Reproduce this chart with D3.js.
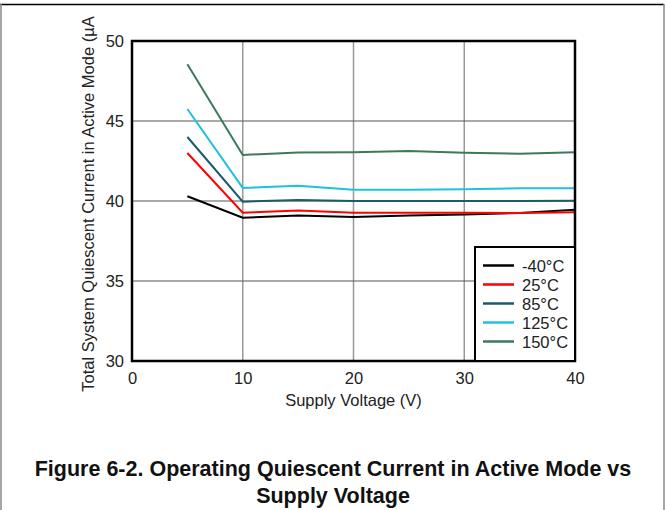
<!DOCTYPE html>
<html>
<head>
<meta charset="utf-8">
<script src="https://cdn.jsdelivr.net/npm/d3@7.9.0/dist/d3.min.js"></script>
<style>
  body { margin: 0; background: #fff; }
  svg { display: block; font-family: "Liberation Sans", Arial, sans-serif; }
</style>
</head>
<body>
<svg id="chart" width="666" height="510"></svg>
<script>
const voltages = [5, 10, 15, 20, 25, 30, 35, 40];
const seriesNames = ['-40°C', '25°C', '85°C', '125°C', '150°C'];
const seriesColors = ['#000000', '#ff0000', '#1d5a6c', '#1ec3da', '#3b7a5b'];
const m40 = [40.3, 38.95, 39.1, 39.0, 39.1, 39.15, 39.25, 39.45];
const p25 = [43.0, 39.27, 39.4, 39.27, 39.27, 39.27, 39.25, 39.3];
const p85 = [44.0, 39.96, 40.06, 40.0, 40.0, 40.0, 40.0, 40.02];
const p125 = [45.75, 40.82, 40.95, 40.7, 40.7, 40.73, 40.8, 40.8];
const p150 = [48.55, 42.88, 43.03, 43.04, 43.12, 43.02, 42.95, 43.05];
const seriesValues = [m40, p25, p85, p125, p150];
const xTicks = [0, 10, 20, 30, 40];
const yTicks = [30, 35, 40, 45, 50];

const svg = d3.select('#chart');
const plotL = 132, plotR = 575, plotT = 41, plotB = 361;
const fs = 16.5;

const x = d3.scaleLinear().domain([0, 40]).range([plotL, plotR]);
const y = d3.scaleLinear().domain([30, 50]).range([plotB, plotT]);

// outer frame
svg.append('line').attr('x1', 0).attr('x2', 664).attr('y1', 4.5).attr('y2', 4.5)
  .attr('stroke', '#000').attr('stroke-width', 1.5);
svg.append('line').attr('x1', 1).attr('x2', 1).attr('y1', 4).attr('y2', 510)
  .attr('stroke', '#888').attr('stroke-width', 1.5);
svg.append('line').attr('x1', 664).attr('x2', 664).attr('y1', 4).attr('y2', 510)
  .attr('stroke', '#888').attr('stroke-width', 1.5);

// grid
svg.append('g').selectAll('line').data([10, 20, 30]).join('line')
  .attr('x1', d => x(d)).attr('x2', d => x(d)).attr('y1', plotT).attr('y2', plotB)
  .attr('stroke', '#999').attr('stroke-width', 1.5);
svg.append('g').selectAll('line').data([35, 40, 45]).join('line')
  .attr('x1', plotL).attr('x2', plotR).attr('y1', d => y(d)).attr('y2', d => y(d))
  .attr('stroke', '#555').attr('stroke-width', 1);

// axes
const xAxis = svg.append('g').attr('transform', `translate(0,${plotB})`)
  .call(d3.axisBottom(x).tickValues(xTicks).tickSize(0).tickPadding(11));
xAxis.select('.domain').remove();
xAxis.attr('font-family', null).attr('font-size', null);
xAxis.selectAll('text').attr('font-size', fs).attr('fill', '#222');

const yAxis = svg.append('g').attr('transform', `translate(${plotL},0)`)
  .call(d3.axisLeft(y).tickValues(yTicks).tickSize(0).tickPadding(8));
yAxis.select('.domain').remove();
yAxis.attr('font-family', null).attr('font-size', null);
yAxis.selectAll('text').attr('font-size', fs).attr('fill', '#222');

// series
const line = d3.line().x((d, i) => x(voltages[i])).y(d => y(d));
seriesValues.forEach((vals, i) => {
  svg.append('path').datum(vals).attr('d', line)
    .attr('fill', 'none').attr('stroke', seriesColors[i]).attr('stroke-width', 2);
});

// plot border
svg.append('rect').attr('x', plotL).attr('y', plotT)
  .attr('width', plotR - plotL).attr('height', plotB - plotT)
  .attr('fill', 'none').attr('stroke', '#000').attr('stroke-width', 2.5);

// axis titles
svg.append('text').attr('x', x(20)).attr('y', 406)
  .attr('text-anchor', 'middle').attr('font-size', fs).attr('fill', '#222')
  .text('Supply Voltage (V)');
svg.append('text').attr('transform', 'translate(94,204) rotate(-90)')
  .attr('text-anchor', 'middle').attr('font-size', fs).attr('fill', '#222')
  .text('Total System Quiescent Current in Active Mode (µA');

// legend
const lg = svg.append('g');
lg.append('rect').attr('x', 475).attr('y', 247).attr('width', plotR - 475).attr('height', plotB - 247)
  .attr('fill', '#fff').attr('stroke', '#000').attr('stroke-width', 2);
seriesNames.forEach((name, i) => {
  const yy = 265.5 + i * 19;
  lg.append('line').attr('x1', 483).attr('x2', 514).attr('y1', yy).attr('y2', yy)
    .attr('stroke', seriesColors[i]).attr('stroke-width', 2.5);
  lg.append('text').attr('x', 522).attr('y', yy + 6).attr('font-size', fs).attr('fill', '#222')
    .text(name);
});

// caption
svg.append('text').attr('x', 333).attr('y', 476).attr('text-anchor', 'middle')
  .attr('font-size', 21.5).attr('font-weight', 'bold').attr('fill', '#111')
  .text('Figure 6-2. Operating Quiescent Current in Active Mode vs');
svg.append('text').attr('x', 333).attr('y', 503).attr('text-anchor', 'middle')
  .attr('font-size', 21.5).attr('font-weight', 'bold').attr('fill', '#111')
  .text('Supply Voltage');
</script>
</body>
</html>
